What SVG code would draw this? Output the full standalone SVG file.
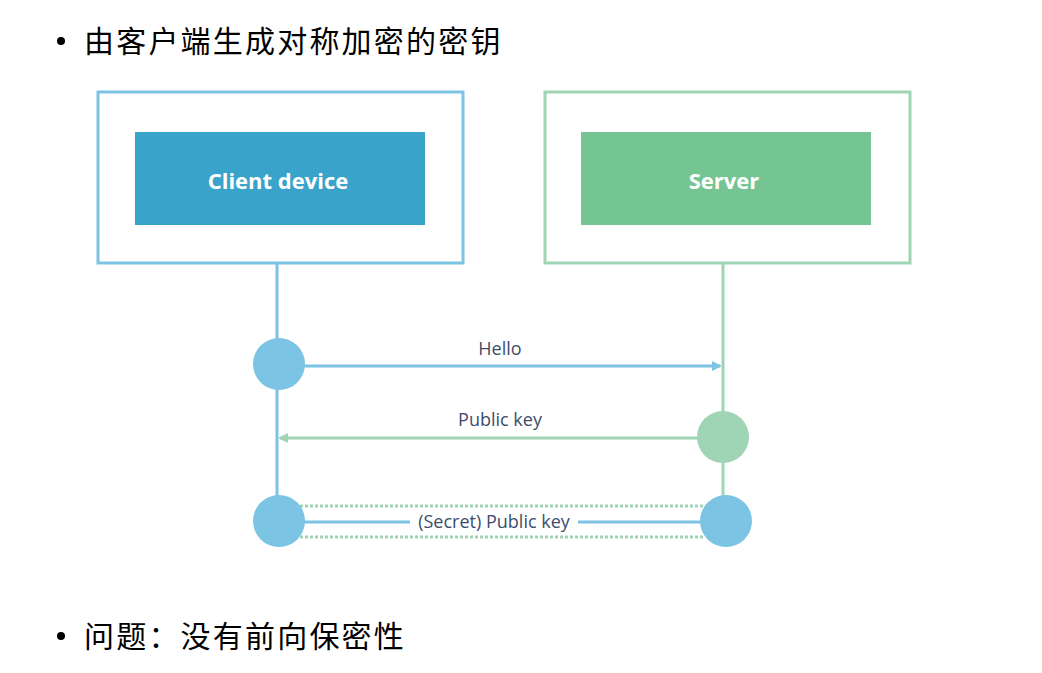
<svg xmlns="http://www.w3.org/2000/svg" width="1042" height="673" viewBox="0 0 1042 673">
<defs>
<style>
.cjk{font-family:"Noto Sans CJK SC","Noto Sans",sans-serif;font-size:30px;fill:#000;letter-spacing:2.2px}
.box{font-family:"Open Sans","Noto Sans",sans-serif;font-weight:bold;font-size:22px;fill:#fff;text-anchor:middle}
.lbl{font-family:"Open Sans","Noto Sans",sans-serif;font-size:18px;fill:#3b4d6b;text-anchor:middle}
.blue{stroke:#7cc4e4;stroke-width:3;fill:none}
.green{stroke:#9fd4b4;stroke-width:3;fill:none}
</style>
<marker id="ab" markerWidth="10" markerHeight="10" refX="8" refY="5" orient="auto" markerUnits="userSpaceOnUse"><path d="M0,0 L10,5 L0,10 Z" fill="#7cc4e4"/></marker>
<marker id="ag" markerWidth="10" markerHeight="10" refX="8" refY="5" orient="auto" markerUnits="userSpaceOnUse"><path d="M0,0 L10,5 L0,10 Z" fill="#9fd4b4"/></marker>
</defs>
<rect width="1042" height="673" fill="#fff"/>
<g id="title">
<circle cx="61" cy="41" r="4" fill="#000"/>
<text class="cjk" x="84" y="52">由客户端生成对称加密的密钥</text>
</g>
<g id="client">
<rect x="98" y="92" width="365" height="171" class="blue"/>
<rect x="135" y="132" width="290" height="93" fill="#3aa3c9"/>
<text class="box" x="278" y="189">Client device</text>
</g>
<g id="server">
<rect x="545" y="92" width="365" height="171" class="green"/>
<rect x="581" y="132" width="290" height="93" fill="#75c592"/>
<text class="box" x="724" y="189">Server</text>
</g>
<g id="connectors">
<line x1="277" y1="263" x2="277" y2="521" class="blue"/>
<line x1="723" y1="263" x2="723" y2="437" class="green"/>
<line x1="723" y1="437" x2="723" y2="521" class="green"/>
<line x1="300" y1="366" x2="720" y2="366" class="blue" marker-end="url(#ab)"/>
<text class="lbl" x="500" y="355">Hello</text>
<line x1="700" y1="438" x2="280" y2="438" class="green" marker-end="url(#ag)"/>
<text class="lbl" x="500" y="426">Public key</text>
<line x1="300" y1="506" x2="705" y2="506" stroke="#9fd4b4" stroke-width="3" stroke-dasharray="3,2"/>
<line x1="300" y1="537" x2="705" y2="537" stroke="#9fd4b4" stroke-width="3" stroke-dasharray="3,2"/>
<line x1="300" y1="522" x2="410" y2="522" class="blue"/>
<line x1="578" y1="522" x2="705" y2="522" class="blue"/>
<text class="lbl" x="494" y="528">(Secret) Public key</text>
</g>
<g id="c1"><circle cx="279" cy="364" r="26" fill="#7cc4e4"/></g>
<g id="c2"><circle cx="723" cy="437" r="26" fill="#9fd4b4"/></g>
<g id="c3"><circle cx="279" cy="521" r="26" fill="#7cc4e4"/></g>
<g id="c4"><circle cx="726" cy="521" r="26" fill="#7cc4e4"/></g>
<g id="footer">
<circle cx="61" cy="636" r="4" fill="#000"/>
<text class="cjk" x="84" y="647">问题：没有前向保密性</text>
</g>
</svg>
